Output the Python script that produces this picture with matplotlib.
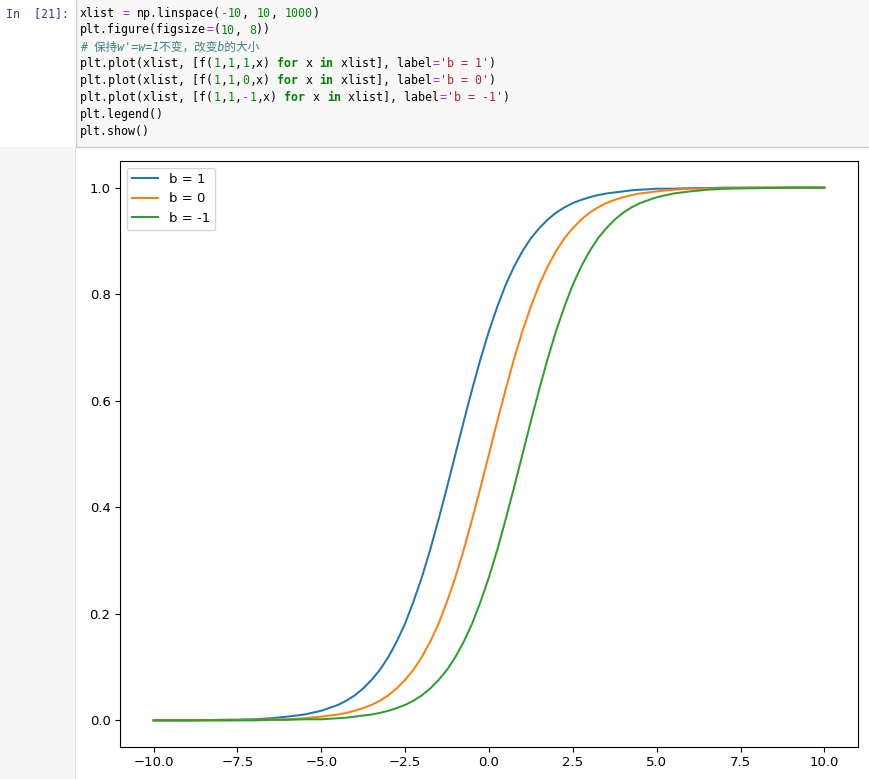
import matplotlib
matplotlib.use("Agg")
import matplotlib.pyplot as plt
from matplotlib.patches import Rectangle

# values
xs = [-10, -9, -8, -7, -6.5, -6, -5.5, -5,
      -4.5, -4.25, -4, -3.75, -3.5, -3.25, -3, -2.75, -2.5, -2.25, -2, -1.75, -1.5,
      -1.25, -1, -0.75, -0.5, -0.25, 0, 0.25, 0.5, 0.75, 1, 1.25, 1.5, 1.75, 2,
      2.25, 2.5, 2.75, 3, 3.25, 3.5, 3.75, 4, 4.25, 4.5,
      5, 5.5, 6, 6.5, 7, 8, 9, 10]
y_b1 = [0.000, 0.000, 0.001, 0.002, 0.004, 0.007, 0.011, 0.018,
        0.029, 0.037, 0.047, 0.060, 0.076, 0.095, 0.119, 0.148, 0.182, 0.223,
        0.269, 0.321, 0.378, 0.438, 0.500, 0.562, 0.622, 0.679, 0.731, 0.777,
        0.818, 0.852, 0.881, 0.905, 0.924, 0.940, 0.953, 0.963, 0.971, 0.977,
        0.982, 0.986, 0.989, 0.991, 0.993, 0.995, 0.996,
        0.998, 0.998, 0.999, 0.999, 1.000, 1.000, 1.000, 1.000]
y_b0 = [0.000, 0.000, 0.000, 0.001, 0.002, 0.002, 0.004, 0.007,
        0.011, 0.014, 0.018, 0.023, 0.029, 0.037, 0.047, 0.060, 0.076, 0.095,
        0.119, 0.148, 0.182, 0.223, 0.269, 0.321, 0.378, 0.438, 0.500, 0.562,
        0.622, 0.679, 0.731, 0.777, 0.818, 0.852, 0.881, 0.905, 0.924, 0.940,
        0.953, 0.963, 0.971, 0.977, 0.982, 0.986, 0.989,
        0.993, 0.996, 0.998, 0.998, 0.999, 1.000, 1.000, 1.000]
y_bm1 = [0.000, 0.000, 0.000, 0.000, 0.001, 0.001, 0.002, 0.002,
         0.004, 0.005, 0.007, 0.009, 0.011, 0.014, 0.018, 0.023, 0.029, 0.037,
         0.047, 0.060, 0.076, 0.095, 0.119, 0.148, 0.182, 0.223, 0.269, 0.321,
         0.378, 0.438, 0.500, 0.562, 0.622, 0.679, 0.731, 0.777, 0.818, 0.852,
         0.881, 0.905, 0.924, 0.940, 0.953, 0.963, 0.971,
         0.982, 0.989, 0.993, 0.996, 0.998, 0.999, 1.000, 1.000]
labels = ['b = 1', 'b = 0', 'b = -1']

W, H = 869, 779
fig = plt.figure(figsize=(W / 100, H / 100), dpi=100)


def fx(px):
    return px / W


def fy(py):
    return 1 - py / H


def rect(x0, y0, x1, y1, fc, ec='none', lw=0):
    fig.add_artist(Rectangle((fx(x0), fy(y1)), fx(x1) - fx(x0), fy(y0) - fy(y1),
                             transform=fig.transFigure, facecolor=fc,
                             edgecolor=ec, linewidth=lw, zorder=0))


# notebook background: code cell on top, gray prompt gutter below
rect(75.5, -2, 871, 146.5, '#f7f7f7', '#cfcfcf', 1)
rect(-2, 147, 74, 781, '#f5f5f5')
fig.add_artist(plt.Line2D([fx(74.5), fx(74.5)], [fy(147), 0], transform=fig.transFigure,
                          color='#e0e0e0', lw=1))

# code cell text (monospace, one column = cw pixels)
mono = ['DejaVu Sans Mono', 'Noto Sans CJK SC']
cw = 7.05
fs = 8.4
NUM, OP, STR, KW, TXT = '#008800', '#AA22FF', '#BA2121', '#008000', '#000000'

fig.text(fx(6), fy(13.3), 'In  [21]:', color='#303F9F', family=mono, fontsize=fs,
         va='center')

code = [
    [('xlist ', TXT), ('=', OP), (' np.linspace(', TXT), ('-', OP), ('10', NUM),
     (', ', TXT), ('10', NUM), (', ', TXT), ('1000', NUM), (')', TXT)],
    [('plt.figure(figsize', TXT), ('=', OP), ('(', TXT), ('10', NUM), (', ', TXT),
     ('8', NUM), ('))', TXT)],
    None,
    [('plt.plot(xlist, [f(', TXT), ('1', NUM), (',', TXT), ('1', NUM), (',', TXT),
     ('1', NUM), (',x) ', TXT), ('for', KW), (' x ', TXT), ('in', KW),
     (' xlist], label', TXT), ('=', OP), ("'b = 1'", STR), (')', TXT)],
    [('plt.plot(xlist, [f(', TXT), ('1', NUM), (',', TXT), ('1', NUM), (',', TXT),
     ('0', NUM), (',x) ', TXT), ('for', KW), (' x ', TXT), ('in', KW),
     (' xlist], label', TXT), ('=', OP), ("'b = 0'", STR), (')', TXT)],
    [('plt.plot(xlist, [f(', TXT), ('1', NUM), (',', TXT), ('1', NUM), (',', TXT),
     ('-', OP), ('1', NUM), (',x) ', TXT), ('for', KW), (' x ', TXT), ('in', KW),
     (' xlist], label', TXT), ('=', OP), ("'b = -1'", STR), (')', TXT)],
    [('plt.legend()', TXT)],
    [('plt.show()', TXT)],
]
line_y = [13.3, 30.0, 46.7, 63.6, 80.8, 97.7, 114.8, 131.7]
for i, toks in enumerate(code):
    if toks is None:
        fig.text(fx(80), fy(line_y[i]), "# 保持w'=w=1不变，改变b的大小", color='#408080',
                 style='italic', family=mono, fontsize=fs, va='center')
        continue
    col = 0
    for t, c in toks:
        # trailing/leading spaces only advance the column
        lead = len(t) - len(t.lstrip(' '))
        fig.text(fx(80 + (col + lead) * cw), fy(line_y[i]), t.strip(' '), color=c,
                 family=mono, fontsize=fs, va='center',
                 fontweight='bold' if c == KW else 'normal')
        col += len(t)

# the chart output
ax = fig.add_axes([fx(120), fy(747), fx(858) - fx(120), fy(161) - fy(747)])
for ys, lab in zip([y_b1, y_b0, y_bm1], labels):
    ax.plot(xs, ys, label=lab, linewidth=1.45)
ax.legend(fontsize=9.5)
ax.tick_params(labelsize=9.5, length=3.3, width=0.8)
for s in ax.spines.values():
    s.set_linewidth(0.8)

fig.savefig('out.png', dpi=100)
